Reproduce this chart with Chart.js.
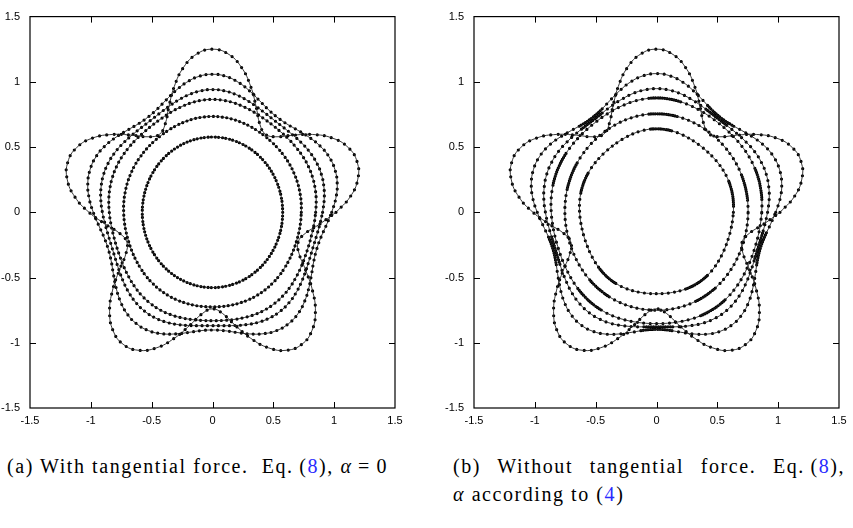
<!DOCTYPE html>
<html><head><meta charset="utf-8">
<script src="https://cdn.jsdelivr.net/npm/chart.js@4.4.0/dist/chart.umd.min.js"></script>
<style>
html,body{margin:0;padding:0;background:#fff;}
body{width:853px;height:528px;position:relative;overflow:hidden;}
.panel{position:absolute;top:0;width:410px;height:430px;}
#pa{left:0;} #pb{left:444px;}
.cap{position:absolute;font-family:"Liberation Serif","DejaVu Serif",serif;font-size:20px;color:#000;white-space:nowrap;line-height:22px;}
.ref{color:#2a2aff;}
</style></head><body>
<div class="panel" id="pa"><canvas id="ca" width="410" height="430"></canvas></div>
<div class="panel" id="pb"><canvas id="cb" width="410" height="430"></canvas></div>
<div class="cap" id="capA" style="left:7px;top:455px;">(a) With tangential force.&nbsp; Eq.&#8201;(<span class="ref">8</span>), <i>α</i>&#8201;=&#8201;0</div>
<div class="cap" id="capB1" style="left:453px;top:455px;width:392px;text-align:justify;text-align-last:justify;white-space:normal;">(b) Without tangential force. Eq.&#8201;(<span class="ref">8</span>),</div>
<div class="cap" id="capB2" style="left:453px;top:483px;"><i>α</i> according to (<span class="ref">4</span>)</div>
<script>
// polar sample angles (degrees), shared by all curves
const angleDeg = [0,6,12,18,24,30,36,42,48,54,60,66,72,78,84,90,96,102,108,114,120,126,132,138,144,150,156,162,168,174,180,186,192,198,204,210,216,222,228,234,240,246,252,258,264,270,276,282,288,294,300,306,312,318,324,330,336,342,348,354,360];
const tickValues = [-1.5,-1,-0.5,0,0.5,1,1.5];
const tickLabels = ["-1.5","-1","-0.5","0","0.5","1","1.5"];

// radii, panel (a)
const starOuter = [1.015,1.138,1.221,1.250,1.221,1.138,1.015,0.883,0.779,0.740,0.779,0.883, 1.015,1.138,1.221,1.250,1.221,1.138,1.015,0.883,0.779,0.740,0.779,0.883, 1.015,1.138,1.221,1.250,1.221,1.138,1.015,0.883,0.779,0.740,0.779,0.883, 1.015,1.138,1.221,1.250,1.221,1.138,1.015,0.883,0.779,0.740,0.779,0.883, 1.015,1.138,1.221,1.250,1.221,1.138,1.015,0.883,0.779,0.740,0.779,0.883, 1.015];
const a2 = [0.980,1.019,1.048,1.058,1.048,1.019,0.980,0.941,0.912,0.902,0.912,0.941, 0.980,1.019,1.048,1.058,1.048,1.019,0.980,0.941,0.912,0.902,0.912,0.941, 0.980,1.019,1.048,1.058,1.048,1.019,0.980,0.941,0.912,0.902,0.912,0.941, 0.980,1.019,1.048,1.058,1.048,1.019,0.980,0.941,0.912,0.902,0.912,0.941, 0.980,1.019,1.048,1.058,1.048,1.019,0.980,0.941,0.912,0.902,0.912,0.941, 0.980];
const a3 = [0.905,0.923,0.936,0.941,0.936,0.923,0.905,0.887,0.874,0.869,0.874,0.887, 0.905,0.923,0.936,0.941,0.936,0.923,0.905,0.887,0.874,0.869,0.874,0.887, 0.905,0.923,0.936,0.941,0.936,0.923,0.905,0.887,0.874,0.869,0.874,0.887, 0.905,0.923,0.936,0.941,0.936,0.923,0.905,0.887,0.874,0.869,0.874,0.887, 0.905,0.923,0.936,0.941,0.936,0.923,0.905,0.887,0.874,0.869,0.874,0.887, 0.905];
const a4 = [0.848,0.857,0.863,0.865,0.863,0.857,0.848,0.840,0.833,0.831,0.833,0.840, 0.848,0.857,0.863,0.865,0.863,0.857,0.848,0.840,0.833,0.831,0.833,0.840, 0.848,0.857,0.863,0.865,0.863,0.857,0.848,0.840,0.833,0.831,0.833,0.840, 0.848,0.857,0.863,0.865,0.863,0.857,0.848,0.840,0.833,0.831,0.833,0.840, 0.848,0.857,0.863,0.865,0.863,0.857,0.848,0.840,0.833,0.831,0.833,0.840, 0.848];
const a5 = [0.730,0.733,0.734,0.735,0.734,0.733,0.730,0.728,0.726,0.725,0.726,0.728, 0.730,0.733,0.734,0.735,0.734,0.733,0.730,0.728,0.726,0.725,0.726,0.728, 0.730,0.733,0.734,0.735,0.734,0.733,0.730,0.728,0.726,0.725,0.726,0.728, 0.730,0.733,0.734,0.735,0.734,0.733,0.730,0.728,0.726,0.725,0.726,0.728, 0.730,0.733,0.734,0.735,0.734,0.733,0.730,0.728,0.726,0.725,0.726,0.728, 0.730];
const a6 = [0.577,0.577,0.577,0.577,0.577,0.577,0.577,0.577,0.577,0.577,0.577,0.577, 0.577,0.577,0.577,0.577,0.577,0.577,0.577,0.577,0.577,0.577,0.577,0.577, 0.577,0.577,0.577,0.577,0.577,0.577,0.577,0.577,0.577,0.577,0.577,0.577, 0.577,0.577,0.577,0.577,0.577,0.577,0.577,0.577,0.577,0.577,0.577,0.577, 0.577,0.577,0.577,0.577,0.577,0.577,0.577,0.577,0.577,0.577,0.577,0.577, 0.577];

// radii, panel (b)
const b2 = [0.980,1.022,1.052,1.063,1.052,1.022,0.980,0.939,0.908,0.897,0.908,0.939, 0.980,1.022,1.052,1.063,1.052,1.022,0.980,0.939,0.908,0.897,0.908,0.939, 0.980,1.022,1.052,1.063,1.052,1.022,0.980,0.939,0.908,0.897,0.908,0.939, 0.980,1.022,1.052,1.063,1.052,1.022,0.980,0.939,0.908,0.897,0.908,0.939, 0.980,1.022,1.052,1.063,1.052,1.022,0.980,0.939,0.908,0.897,0.908,0.939, 0.980];
const b3 = [0.913,0.931,0.943,0.948,0.943,0.931,0.913,0.896,0.883,0.878,0.883,0.896, 0.913,0.931,0.943,0.948,0.943,0.931,0.913,0.896,0.883,0.878,0.883,0.896, 0.913,0.931,0.943,0.948,0.943,0.931,0.913,0.896,0.883,0.878,0.883,0.896, 0.913,0.931,0.943,0.948,0.943,0.931,0.913,0.896,0.883,0.878,0.883,0.896, 0.913,0.931,0.943,0.948,0.943,0.931,0.913,0.896,0.883,0.878,0.883,0.896, 0.913];
const b4 = [0.865,0.871,0.875,0.877,0.875,0.871,0.865,0.859,0.855,0.853,0.855,0.859, 0.865,0.871,0.875,0.877,0.875,0.871,0.865,0.859,0.855,0.853,0.855,0.859, 0.865,0.871,0.875,0.877,0.875,0.871,0.865,0.859,0.855,0.853,0.855,0.859, 0.865,0.871,0.875,0.877,0.875,0.871,0.865,0.859,0.855,0.853,0.855,0.859, 0.865,0.871,0.875,0.877,0.875,0.871,0.865,0.859,0.855,0.853,0.855,0.859, 0.865];
const b5 = [0.753,0.754,0.755,0.755,0.755,0.754,0.753,0.752,0.751,0.751,0.751,0.752, 0.753,0.754,0.755,0.755,0.755,0.754,0.753,0.752,0.751,0.751,0.751,0.752, 0.753,0.754,0.755,0.755,0.755,0.754,0.753,0.752,0.751,0.751,0.751,0.752, 0.753,0.754,0.755,0.755,0.755,0.754,0.753,0.752,0.751,0.751,0.751,0.752, 0.753,0.754,0.755,0.755,0.755,0.754,0.753,0.752,0.751,0.751,0.751,0.752, 0.753];
const b6 = [0.632,0.636,0.639,0.640,0.639,0.636,0.632,0.628,0.625,0.624,0.625,0.628, 0.632,0.636,0.639,0.640,0.639,0.636,0.632,0.628,0.625,0.624,0.625,0.628, 0.632,0.636,0.639,0.640,0.639,0.636,0.632,0.628,0.625,0.624,0.625,0.628, 0.632,0.636,0.639,0.640,0.639,0.636,0.632,0.628,0.625,0.624,0.625,0.628, 0.632,0.636,0.639,0.640,0.639,0.636,0.632,0.628,0.625,0.624,0.625,0.628, 0.632];

// angles (degrees) where the nodes of the panel (b) curves bunch together
const b2Clusters = [54,126,198,270,342];
const b3Clusters = [54,126,198,270,342];
const b4Clusters = [13,85,157,229,301];
const b5Clusters = [13,85,157,229,301];
const b6Clusters = [13,85,157,229,301];

function toXY(r){
  return angleDeg.map((a,i)=>({x: r[i]*Math.cos(a*Math.PI/180), y: r[i]*Math.sin(a*Math.PI/180)}));
}
function curveSets(r, gap){
  const d = toXY(r);
  return [
    {data:d, showLine:true, borderColor:'#222', borderWidth:0.9, pointRadius:0, tension:0.45, fill:false},
    {data:d, showLine:true, borderColor:'#000', borderWidth:3.2, borderDash:[0,gap], borderCapStyle:'round', pointRadius:0, tension:0.45, fill:false}
  ];
}

const frameTicks = {
  id:'frameTicks',
  afterDatasetsDraw(chart){
    const {ctx, chartArea:a, scales:{x,y}} = chart;
    ctx.save();
    ctx.strokeStyle='#000';
    ctx.lineWidth=1.2;
    ctx.strokeRect(a.left, a.top, a.right-a.left, a.bottom-a.top);
    ctx.lineWidth=1;
    const L=6;
    ctx.beginPath();
    tickValues.slice(1,-1).forEach(v=>{
      const px=Math.round(x.getPixelForValue(v))+0.5;
      ctx.moveTo(px,a.bottom); ctx.lineTo(px,a.bottom-L);
      ctx.moveTo(px,a.top); ctx.lineTo(px,a.top+L);
      const py=Math.round(y.getPixelForValue(v))+0.5;
      ctx.moveTo(a.left,py); ctx.lineTo(a.left+L,py);
      ctx.moveTo(a.right,py); ctx.lineTo(a.right-L,py);
    });
    ctx.stroke();
    ctx.restore();
  }
};

function makeChart(id, curves){
  const datasets = [];
  curves.forEach(c=>datasets.push(...curveSets(c[0], c[1])));
  const tickFont = {family:'"Liberation Sans", Arial, sans-serif', size:11};
  return new Chart(document.getElementById(id), {
    type:'scatter',
    data:{datasets},
    options:{
      responsive:false, animation:false, events:[],
      layout:{padding:{left:0,right:15,top:13,bottom:0}},
      plugins:{legend:{display:false}, tooltip:{enabled:false}},
      scales:{
        x:{type:'linear', min:-1.5, max:1.5,
           afterBuildTicks(s){ s.ticks = tickValues.map(v=>({value:v})); },
           ticks:{callback:(v)=>tickLabels[tickValues.indexOf(v)], font:tickFont, color:'#000', padding:6, maxRotation:0, autoSkip:false},
           grid:{display:false, drawTicks:false}, border:{display:false},
           afterFit(s){ s.height = 22; }},
        y:{type:'linear', min:-1.5, max:1.5,
           afterBuildTicks(s){ s.ticks = tickValues.map(v=>({value:v})); },
           ticks:{callback:(v)=>tickLabels[tickValues.indexOf(v)], font:tickFont, color:'#000', padding:10, autoSkip:false},
           grid:{display:false, drawTicks:false}, border:{display:false},
           afterFit(s){ s.width = 30; }}
      }
    },
    plugins:[frameTicks]
  });
}

makeChart('ca', [[starOuter,7.3],[a2,6.0],[a3,5.5],[a4,5.2],[a5,4.5],[a6,3.6]]);
const chartB = makeChart('cb', [[starOuter,7.3],[b2,6.0],[b3,5.6],[b4,5.3],[b5,4.8],[b6,4.2]]);

// bead spacing along a drawn curve: dense near the bunching angles, sparse elsewhere
function clusterDash(chart, dsIndex, centres, halfWidth, gDense, gSparse){
  const pts = chart.getDatasetMeta(dsIndex).data;
  const cum=[0];
  for (let i=1;i<pts.length;i++) cum.push(cum[i-1]+Math.hypot(pts[i].x-pts[i-1].x, pts[i].y-pts[i-1].y));
  const total = cum[cum.length-1];
  const dash=[]; let s=0, seg=0;
  while (s < total-1){
    while (seg < pts.length-2 && cum[seg+1] < s) seg++;
    const f = (s-cum[seg])/(cum[seg+1]-cum[seg]);
    const ang = angleDeg[seg] + f*(angleDeg[seg+1]-angleDeg[seg]);
    const near = centres.some(c=>Math.abs(((ang-c)%360+540)%360-180) <= halfWidth);
    const g = near ? gDense : gSparse;
    dash.push(0, g); s += g;
  }
  return dash;
}
const bSpec = [[3,b2Clusters,8,2.4,6.8],[5,b3Clusters,8,2.4,6.4],[7,b4Clusters,9,2.3,6.4],[9,b5Clusters,9,2.2,6.0],[11,b6Clusters,9,2.0,6.0]];
bSpec.forEach(([i,c,h,gd,gs])=>{ chartB.data.datasets[i].borderDash = clusterDash(chartB,i,c,h,gd,gs); });
chartB.update('none');

// fit caption letter-spacing to the reference caption width
(function(){
  const capA = document.getElementById('capA');
  const target = 381;
  const w0 = capA.getBoundingClientRect().width;
  const n = capA.textContent.length;
  const ls = (target - w0) / n;
  capA.style.letterSpacing = ls + 'px';
  document.getElementById('capB1').style.letterSpacing = ls + 'px';
  document.getElementById('capB2').style.letterSpacing = ls + 'px';
})();
</script>
</body></html>
